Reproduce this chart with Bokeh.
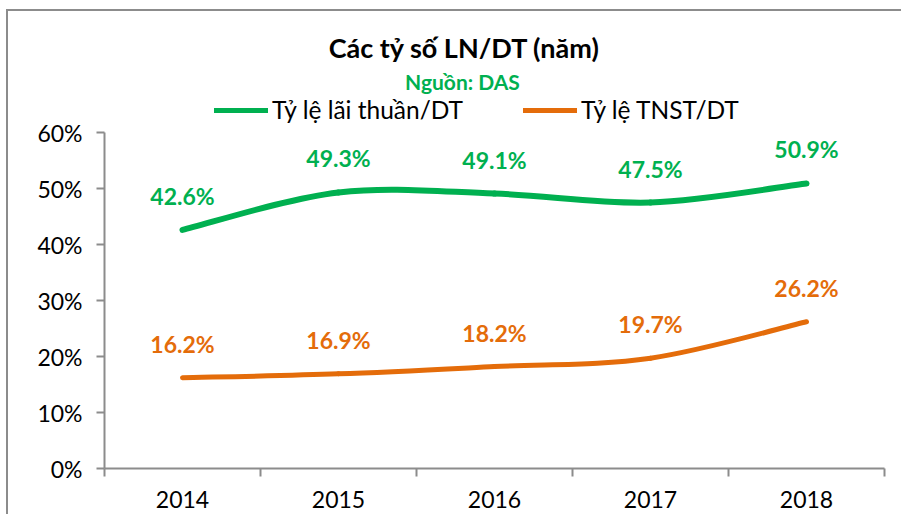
from bokeh.plotting import figure
from bokeh.models import (Range1d, FixedTicker, PrintfTickFormatter, Label, Legend, LegendItem,
                          ColumnDataSource)
from bokeh.core.properties import value
from bokeh.embed import file_html
from bokeh.resources import INLINE

years = ["2014", "2015", "2016", "2017", "2018"]
lai_thuan = [42.6, 49.3, 49.1, 47.5, 50.9]
tnst = [16.2, 16.9, 18.2, 19.7, 26.2]
y_ticks = [0, 10, 20, 30, 40, 50, 60]

GREEN = "#00B050"
ORANGE = "#E46C0A"
GREY = "#8C8C8C"
FONT = "Lato"

xs = [i + 0.5 for i in range(len(years))]

W, H = 895, 505
FRAME_BOTTOM = 457          # canvas px of the 0% line
PX_PER_UNIT = 5.6           # px per 1 %
y_top = FRAME_BOTTOM / PX_PER_UNIT

p = figure(width=W, height=H, output_backend="svg", toolbar_location=None,
           x_range=Range1d(0, len(years)), y_range=Range1d(0, y_top),
           min_border_left=96, min_border_right=19, min_border_top=0,
           min_border_bottom=H - FRAME_BOTTOM)
p.styles = {"border-top": "2px solid #8C8C8C", "border-left": "2px solid #8C8C8C",
            "margin-left": "6px", "margin-top": "9px"}
p.grid.visible = False
p.outline_line_color = None
p.background_fill_color = "white"
p.border_fill_color = "white"


def smooth(xv, yv):
    n = len(xv)
    d = dict(x0=[], y0=[], x1=[], y1=[], cx0=[], cy0=[], cx1=[], cy1=[])
    for i in range(n - 1):
        i0 = max(i - 1, 0)
        i3 = min(i + 2, n - 1)
        d["x0"].append(xv[i]); d["y0"].append(yv[i])
        d["x1"].append(xv[i + 1]); d["y1"].append(yv[i + 1])
        d["cx0"].append(xv[i] + (xv[i + 1] - xv[i0]) / 6)
        d["cy0"].append(yv[i] + (yv[i + 1] - yv[i0]) / 6)
        d["cx1"].append(xv[i + 1] - (xv[i3] - xv[i]) / 6)
        d["cy1"].append(yv[i + 1] - (yv[i3] - yv[i]) / 6)
    return ColumnDataSource(d)


for vals, col, lw in [(lai_thuan, GREEN, 6), (tnst, ORANGE, 5)]:
    p.bezier(x0="x0", y0="y0", x1="x1", y1="y1", cx0="cx0", cy0="cy0", cx1="cx1", cy1="cy1",
             source=smooth(xs, vals), line_color=col, line_width=lw, line_cap="round")
    p.text(x=xs, y=vals, text=[f"{v:.1f}%" for v in vals], text_color=col,
           text_font=value(FONT), text_font_style="bold", text_font_size="23px",
           text_align="center", text_baseline="middle", y_offset=-34)

# axes
xa = p.xaxis[0]
xa.ticker = FixedTicker(ticks=xs, minor_ticks=list(range(len(years) + 1)))
xa.major_label_overrides = {x: y for x, y in zip(xs, years)}
xa.major_tick_line_color = None
xa.major_tick_out = 0
xa.major_tick_in = 0
xa.minor_tick_out = 8
xa.minor_tick_in = 0
xa.minor_tick_line_color = GREY
xa.minor_tick_line_width = 2
xa.axis_line_color = GREY
xa.axis_line_width = 2
xa.major_label_text_font = FONT
xa.major_label_text_font_size = "23px"
xa.major_label_text_color = "#000000"
xa.major_label_standoff = 14

ya = p.yaxis[0]
ya.ticker = FixedTicker(ticks=y_ticks)
ya.bounds = (0, 60)
ya.formatter = PrintfTickFormatter(format="%d%%")
ya.major_tick_out = 8
ya.major_tick_in = 0
ya.minor_tick_line_color = None
ya.major_tick_line_color = GREY
ya.major_tick_line_width = 2
ya.axis_line_color = GREY
ya.axis_line_width = 2
ya.major_label_text_font = FONT
ya.major_label_text_font_size = "23px"
ya.major_label_text_color = "#000000"
ya.major_label_standoff = 14

# title & subtitle
p.add_layout(Label(x=(464 - 104) / 156, y=(468 - 47) / 5.6, text="Các tỷ số LN/DT (năm)",
                   text_font=FONT, text_font_style="bold", text_font_size="27px",
                   text_color="#000000", text_align="center", text_baseline="middle"))
p.add_layout(Label(x=(462 - 104) / 156, y=(468 - 81) / 5.6, text="Nguồn: DAS", text_font=FONT,
                   text_font_style="bold", text_font_size="21px", text_color=GREEN,
                   text_align="center", text_baseline="middle"))

# legend
nan = float("nan")
r1 = p.line([nan], [nan], line_color=GREEN, line_width=5, line_cap="round")
r2 = p.line([nan], [nan], line_color=ORANGE, line_width=5, line_cap="round")
legend = Legend(items=[LegendItem(label="Tỷ lệ lãi thuần/DT", renderers=[r1]),
                       LegendItem(label="Tỷ lệ TNST/DT", renderers=[r2])],
                orientation="horizontal", location=(110, 344), padding=0, margin=0,
                border_line_color=None, background_fill_alpha=0,
                glyph_width=54, glyph_height=24, label_height=24, label_standoff=4, spacing=60,
                label_text_font=FONT, label_text_font_size="24.5px", label_text_color="#000000")
p.add_layout(legend, "center")

open("out.html", "w").write(file_html(p, INLINE))
